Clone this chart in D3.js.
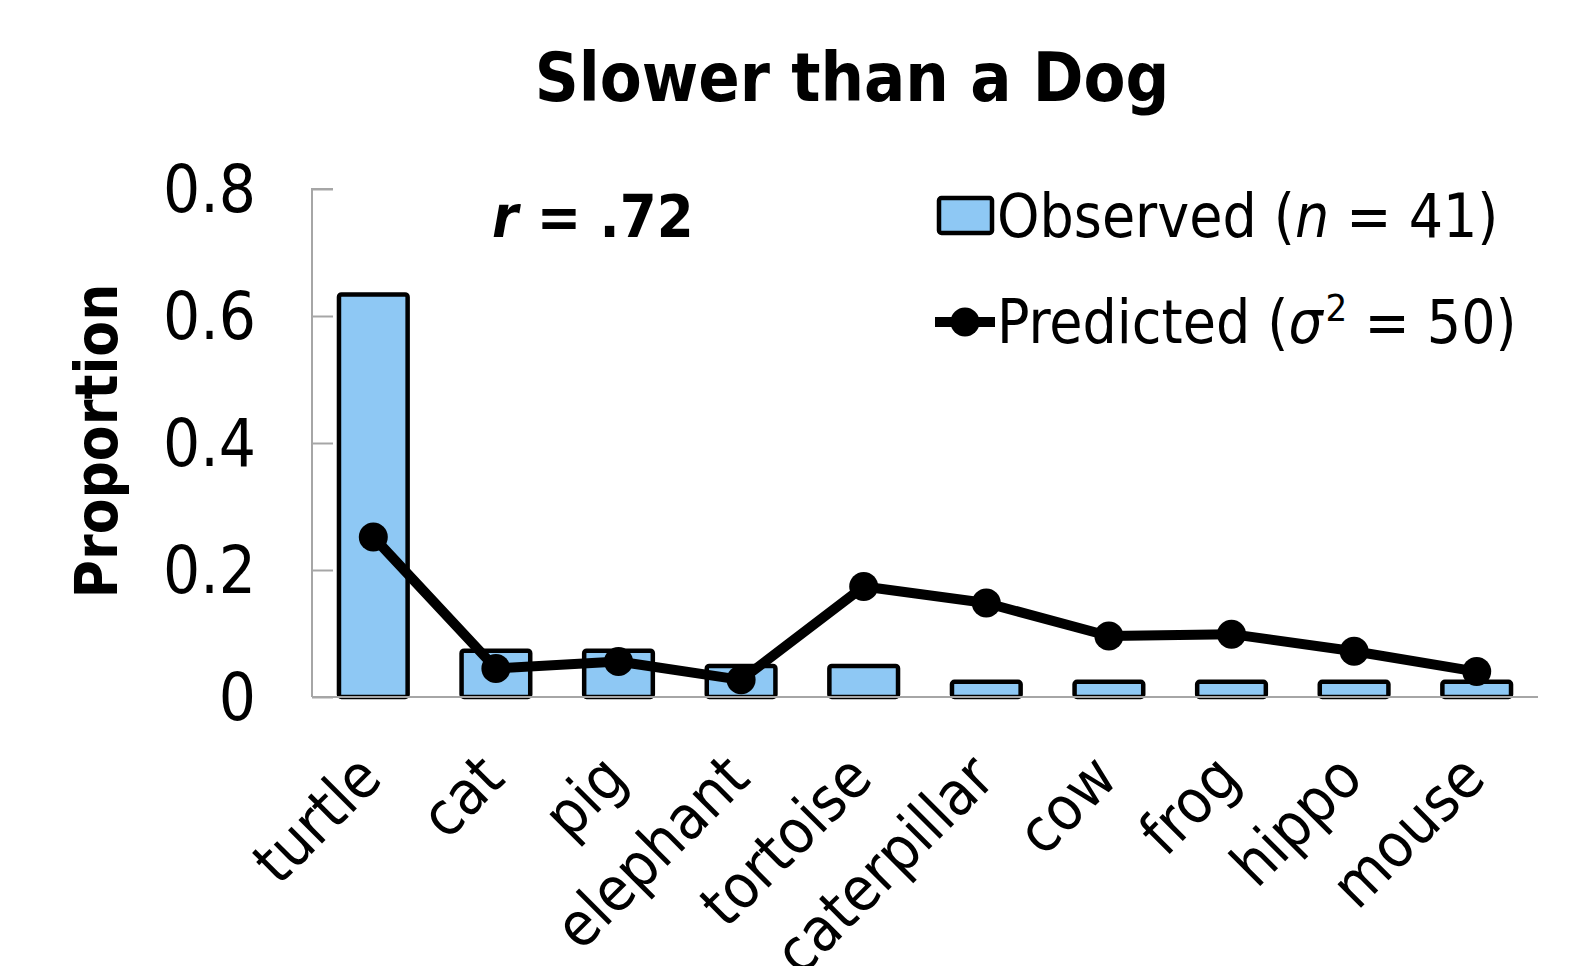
<!DOCTYPE html>
<html>
<head>
<meta charset="utf-8">
<script src="https://cdn.jsdelivr.net/npm/d3@7"></script>
<style>
  body { margin: 0; background: #fff; }
  text { font-family: "DejaVu Sans Condensed", "DejaVu Sans", sans-serif; fill: #000; }
</style>
</head>
<body>
<div id="chart"></div>
<script>
// data
const animals = ["turtle", "cat", "pig", "elephant", "tortoise", "caterpillar", "cow", "frog", "hippo", "mouse"];
const observed = [0.634, 0.073, 0.073, 0.049, 0.049, 0.024, 0.024, 0.024, 0.024, 0.024];
const predicted = [0.252, 0.045, 0.056, 0.027, 0.174, 0.148, 0.096, 0.099, 0.072, 0.040];
const yTicks = [0, 0.2, 0.4, 0.6, 0.8];

const width = 1581;
const height = 966;
const margin = {left: 312, right: 43, top: 189, bottom: 269};

const svg = d3.select("#chart")
  .append("svg")
  .attr("width", width)
  .attr("height", height);

const x = d3.scaleBand()
  .domain(animals)
  .range([margin.left, width - margin.right])
  .paddingInner(0.44)
  .paddingOuter(0.22);

const y = d3.scaleLinear()
  .domain([0, 0.8])
  .range([height - margin.bottom, margin.top]);

// title
svg.append("text")
  .attr("x", 852)
  .attr("y", 101)
  .attr("text-anchor", "middle")
  .style("font-size", "68px")
  .style("font-weight", "bold")
  .text("Slower than a Dog");

// y axis (ticks point inward like the excel original)
const yAxis = svg.append("g")
  .attr("transform", `translate(${margin.left},0)`)
  .call(d3.axisRight(y).tickValues(yTicks).tickSize(21).tickFormat(d => d === 0 ? "0" : d3.format(".1f")(d)));
yAxis.select(".domain").attr("stroke", "#a6a6a6").attr("stroke-width", 2).attr("d", `M21,${y(0.8)}H0V${y(0)}`);
yAxis.selectAll(".tick line").attr("stroke", "#a6a6a6").attr("stroke-width", 2);
yAxis.selectAll(".tick text")
  .attr("x", -56)
  .attr("dy", "0.34em")
  .attr("text-anchor", "end")
  .style("font-size", "65px")
  .style("font-family", "\"DejaVu Sans Condensed\", sans-serif");

svg.append("text")
  .attr("transform", `translate(117,${(y(0) + y(0.8)) / 2 - 2}) rotate(-90)`)
  .attr("text-anchor", "middle")
  .style("font-size", "58px")
  .style("font-weight", "bold")
  .text("Proportion");

// bars
svg.append("g")
  .selectAll("rect")
  .data(animals)
  .join("rect")
  .attr("x", d => x(d))
  .attr("y", (d, i) => y(observed[i]))
  .attr("width", x.bandwidth())
  .attr("height", (d, i) => y(0) - y(observed[i]))
  .attr("rx", 2.5)
  .attr("fill", "#8ec8f4")
  .attr("stroke", "#000")
  .attr("stroke-width", 4.5);

// x axis line
svg.append("line")
  .attr("x1", margin.left)
  .attr("x2", width - margin.right)
  .attr("y1", y(0))
  .attr("y2", y(0))
  .attr("stroke", "#a6a6a6")
  .attr("stroke-width", 2);

// predicted line
const line = d3.line()
  .x((d, i) => x(animals[i]) + x.bandwidth() / 2)
  .y(d => y(d));

svg.append("path")
  .datum(predicted)
  .attr("d", line)
  .attr("fill", "none")
  .attr("stroke", "#000")
  .attr("stroke-width", 10)
  .attr("stroke-linejoin", "round");

svg.append("g")
  .selectAll("circle")
  .data(predicted)
  .join("circle")
  .attr("cx", (d, i) => x(animals[i]) + x.bandwidth() / 2)
  .attr("cy", d => y(d))
  .attr("r", 14.5)
  .attr("fill", "#000");

// category labels, rotated
svg.append("g")
  .selectAll("text")
  .data(animals)
  .join("text")
  .attr("transform", d => `translate(${x(d) + x.bandwidth() / 2 - 4},${y(0) + 69}) rotate(-45)`)
  .attr("text-anchor", "end")
  .attr("dy", "0.35em")
  .style("font-size", "61px")
  .text(d => d);

// correlation note
const rText = svg.append("text")
  .attr("x", 492)
  .attr("y", 237)
  .style("font-size", "59px")
  .style("font-weight", "bold");
rText.append("tspan").style("font-style", "italic").text("r");
rText.append("tspan").text(" = .72");

// legend
const legend = svg.append("g");
legend.append("rect")
  .attr("x", 939)
  .attr("y", 198)
  .attr("width", 53)
  .attr("height", 35)
  .attr("rx", 2.5)
  .attr("fill", "#8ec8f4")
  .attr("stroke", "#000")
  .attr("stroke-width", 4.5);
const obsText = legend.append("text")
  .attr("x", 997)
  .attr("y", 237)
  .style("font-size", "60px");
obsText.append("tspan").text("Observed (");
obsText.append("tspan").style("font-style", "italic").text("n");
obsText.append("tspan").text(" = 41)");

legend.append("line")
  .attr("x1", 935)
  .attr("x2", 995)
  .attr("y1", 322)
  .attr("y2", 322)
  .attr("stroke", "#000")
  .attr("stroke-width", 10);
legend.append("circle")
  .attr("cx", 965)
  .attr("cy", 322)
  .attr("r", 14.5)
  .attr("fill", "#000");
const predText = legend.append("text")
  .attr("x", 997)
  .attr("y", 343)
  .style("font-size", "60px");
predText.append("tspan").text("Predicted (");
predText.append("tspan").style("font-style", "italic").text("σ");
predText.append("tspan").attr("dx", 3).attr("dy", -22).style("font-size", "38px").text("2");
predText.append("tspan").attr("dy", 22).text(" = 50)");
</script>
</body>
</html>
